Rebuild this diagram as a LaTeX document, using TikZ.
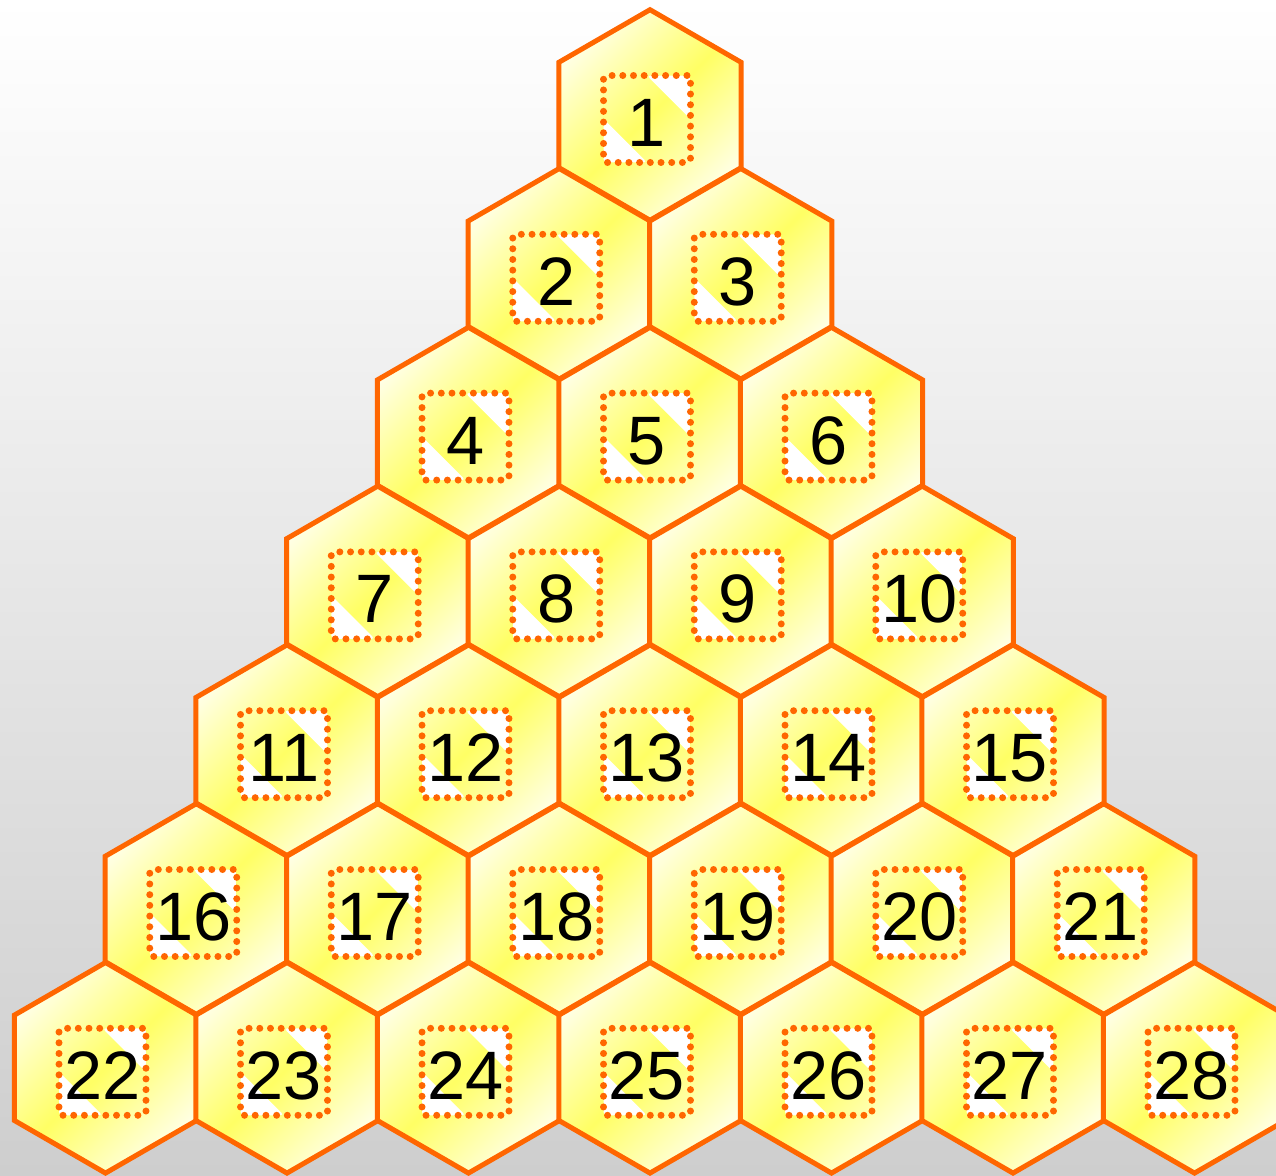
\documentclass[tikz,border=0pt]{standalone}
\usepackage{fontspec}
\setmainfont{Liberation Sans}
\usepackage{tikz}
\usetikzlibrary{shapes.geometric,calc}
\definecolor{hexorange}{RGB}{255,102,0}
\definecolor{hexyellow}{RGB}{255,255,100}
\definecolor{hexlight}{RGB}{255,255,228}
\definecolor{bggray}{RGB}{206,206,206}

\begin{document}
\begin{tikzpicture}[x=0.02cm,y=0.02cm,
  hexa/.style={regular polygon,regular polygon sides=6,shape border rotate=30,minimum size=4.212cm,inner sep=0pt,
    draw=hexorange,line width=0.1cm,top color=hexlight,bottom color=hexlight,middle color=hexyellow,shading angle=45},
  numbox/.style={minimum size=1.74cm,inner sep=0pt,draw=hexorange,line width=0.14cm,line cap=round,
    dash pattern=on 0pt off 0.214cm,rounded corners=2pt,font=\fontsize{39}{41}\selectfont,
    text height=1.1cm,text depth=0pt,
    path picture={\fill[white] (path picture bounding box.north) -| (path picture bounding box.east) -- cycle;
      \fill[white] (path picture bounding box.west) |- (path picture bounding box.south) -- cycle;}}]
\useasboundingbox (0,0) rectangle (1276,-1176);
\shade[top color=white,bottom color=bggray] (0,0) rectangle (1276,-1176);
% row 1
\node[hexa] (h1) at (650,-115) {}; \node[numbox] (n1) at ([shift={(-3,-4)}]h1) {1};
% row 2
\node[hexa] (h2) at (559.25,-273.8) {}; \node[numbox] (n2) at ([shift={(-3,-4)}]h2) {2};
\node[hexa] (h3) at (740.75,-273.8) {}; \node[numbox] (n3) at ([shift={(-3,-4)}]h3) {3};
% row 3
\node[hexa] (h4) at (468.5,-432.6) {}; \node[numbox] (n4) at ([shift={(-3,-4)}]h4) {4};
\node[hexa] (h5) at (650,-432.6) {}; \node[numbox] (n5) at ([shift={(-3,-4)}]h5) {5};
\node[hexa] (h6) at (831.5,-432.6) {}; \node[numbox] (n6) at ([shift={(-3,-4)}]h6) {6};
% row 4
\node[hexa] (h7) at (377.75,-591.4) {}; \node[numbox] (n7) at ([shift={(-3,-4)}]h7) {7};
\node[hexa] (h8) at (559.25,-591.4) {}; \node[numbox] (n8) at ([shift={(-3,-4)}]h8) {8};
\node[hexa] (h9) at (740.75,-591.4) {}; \node[numbox] (n9) at ([shift={(-3,-4)}]h9) {9};
\node[hexa] (h10) at (922.25,-591.4) {}; \node[numbox] (n10) at ([shift={(-3,-4)}]h10) {10};
% row 5
\node[hexa] (h11) at (287,-750.2) {}; \node[numbox] (n11) at ([shift={(-3,-4)}]h11) {11};
\node[hexa] (h12) at (468.5,-750.2) {}; \node[numbox] (n12) at ([shift={(-3,-4)}]h12) {12};
\node[hexa] (h13) at (650,-750.2) {}; \node[numbox] (n13) at ([shift={(-3,-4)}]h13) {13};
\node[hexa] (h14) at (831.5,-750.2) {}; \node[numbox] (n14) at ([shift={(-3,-4)}]h14) {14};
\node[hexa] (h15) at (1013,-750.2) {}; \node[numbox] (n15) at ([shift={(-3,-4)}]h15) {15};
% row 6
\node[hexa] (h16) at (196.25,-909) {}; \node[numbox] (n16) at ([shift={(-3,-4)}]h16) {16};
\node[hexa] (h17) at (377.75,-909) {}; \node[numbox] (n17) at ([shift={(-3,-4)}]h17) {17};
\node[hexa] (h18) at (559.25,-909) {}; \node[numbox] (n18) at ([shift={(-3,-4)}]h18) {18};
\node[hexa] (h19) at (740.75,-909) {}; \node[numbox] (n19) at ([shift={(-3,-4)}]h19) {19};
\node[hexa] (h20) at (922.25,-909) {}; \node[numbox] (n20) at ([shift={(-3,-4)}]h20) {20};
\node[hexa] (h21) at (1103.75,-909) {}; \node[numbox] (n21) at ([shift={(-3,-4)}]h21) {21};
% row 7
\node[hexa] (h22) at (105.5,-1067.8) {}; \node[numbox] (n22) at ([shift={(-3,-4)}]h22) {22};
\node[hexa] (h23) at (287,-1067.8) {}; \node[numbox] (n23) at ([shift={(-3,-4)}]h23) {23};
\node[hexa] (h24) at (468.5,-1067.8) {}; \node[numbox] (n24) at ([shift={(-3,-4)}]h24) {24};
\node[hexa] (h25) at (650,-1067.8) {}; \node[numbox] (n25) at ([shift={(-3,-4)}]h25) {25};
\node[hexa] (h26) at (831.5,-1067.8) {}; \node[numbox] (n26) at ([shift={(-3,-4)}]h26) {26};
\node[hexa] (h27) at (1013,-1067.8) {}; \node[numbox] (n27) at ([shift={(-3,-4)}]h27) {27};
\node[hexa] (h28) at (1194.5,-1067.8) {}; \node[numbox] (n28) at ([shift={(-3,-4)}]h28) {28};
\end{tikzpicture}
\end{document}
